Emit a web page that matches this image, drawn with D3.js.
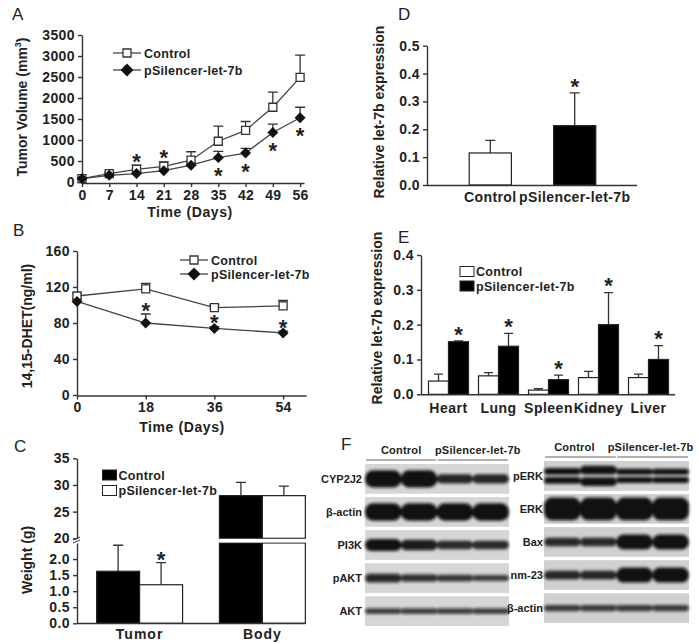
<!DOCTYPE html>
<html>
<head>
<meta charset="utf-8">
<script src="https://cdn.jsdelivr.net/npm/d3@7"></script>
<style>
  body { margin: 0; background: #fff; }
  svg text { font-family: "Liberation Sans", Arial, sans-serif; font-weight: bold; fill: #222; }
</style>
</head>
<body>
<svg id="fig" width="699" height="644"></svg>
<script>
// ---- panel A: tumor volume ----
const daysA = [0, 7, 14, 21, 28, 35, 42, 49, 56];
const volControl = [80, 200, 300, 370, 520, 970, 1230, 1780, 2490];
const volControlErr = [20, 40, 100, 110, 200, 360, 210, 360, 530];
const volSilencer = [80, 160, 200, 270, 400, 580, 690, 1180, 1530];
const volSilencerErr = [10, 30, 40, 50, 60, 150, 110, 200, 250];
const starsAboveA = [14, 21];
const starsBelowA = [35, 42, 49, 56];

// ---- panel B: 14,15-DHET ----
const daysB = [0, 18, 36, 54];
const dhetControl = [110, 118, 97, 99];
const dhetControlErr = [3, 6, 3, 6];
const dhetSilencer = [104, 80, 74, 69];
const dhetSilencerErr = [3, 10, 2, 2];
const starsB = [18, 36, 54];

// ---- panel C: weight ----
const weightGroups = ["Tumor", "Body"];
const weightControl = [1.62, 28.0];
const weightControlErr = [0.81, 2.5];
const weightSilencer = [1.2, 28.0];
const weightSilencerErr = [0.69, 1.8];
const weightTicksLow = [0, 0.5, 1.0, 1.5, 2.0];
const weightTicksHigh = [20, 25, 30, 35];

// ---- panel D: let-7b in tumor ----
const groupsD = ["Control", "pSilencer-let-7b"];
const exprD = [0.115, 0.213];
const exprDErr = [0.045, 0.118];

// ---- panel E: let-7b in organs ----
const organs = ["Heart", "Lung", "Spleen", "Kidney", "Liver"];
const organControl = [0.038, 0.053, 0.012, 0.048, 0.048];
const organControlErr = [0.020, 0.009, 0.004, 0.018, 0.010];
const organSilencer = [0.151, 0.138, 0.042, 0.200, 0.100];
const organSilencerErr = [0.002, 0.037, 0.013, 0.092, 0.040];

// ---- panel F: western blots (relative band signal per lane) ----
const lanes = ["C1", "C2", "S1", "S2"];
const blotLeftProteins = ["CYP2J2", "β-actin", "PI3K", "pAKT", "AKT"];
const blotLeftSignal = [
  [0.64, 0.64, 0.28, 0.28],
  [0.66, 0.66, 0.66, 0.66],
  [0.40, 0.33, 0.24, 0.24],
  [0.26, 0.20, 0.17, 0.14],
  [0.13, 0.13, 0.13, 0.13]
];
const blotRightProteins = ["pERK", "ERK", "Bax", "nm-23", "β-actin"];
const blotRightSignal = [
  [0.55, 0.75, 0.48, 0.48],
  [0.90, 0.90, 0.90, 0.90],
  [0.25, 0.25, 0.55, 0.55],
  [0.26, 0.26, 0.55, 0.55],
  [0.15, 0.14, 0.14, 0.14]
];
const doubletProteins = ["pERK"];

const FONT = '"Liberation Sans", Arial, sans-serif';
const svg = d3.select("#fig");

function styleAxis(g, size) {
  g.attr("font-family", FONT).attr("font-size", size || 14).attr("font-weight", "bold");
  g.selectAll("path, line").attr("stroke", "#333").attr("stroke-width", 1.4);
  g.selectAll("text").attr("fill", "#222").attr("letter-spacing", 0.4);
}

function star(x, cy) {
  svg.append("text").attr("x", x).attr("y", cy + 12.5)
    .attr("text-anchor", "middle").attr("font-size", 22).text("*");
}

function panelLetter(t, x, y) {
  svg.append("text").attr("x", x).attr("y", y).attr("font-size", 17)
    .style("font-weight", "normal").attr("fill", "#000").text(t);
}

function errBars(g, xs, ys, errs, xScale, yScale, cap) {
  g.selectAll(null).data(xs).enter().append("path")
    .attr("d", (d, i) => {
      const x = xScale(d), y0 = yScale(ys[i]), y1 = yScale(ys[i] + errs[i]);
      return `M${x},${y0}V${y1}M${x - cap},${y1}H${x + cap}`;
    })
    .attr("stroke", "#333").attr("stroke-width", 1.3).attr("fill", "none");
}

function vLabel(t, x, y, size) {
  return svg.append("text").attr("transform", `translate(${x},${y}) rotate(-90)`)
    .attr("text-anchor", "middle").attr("font-size", size || 14).text(t);
}

const sq = d3.symbol().type(d3.symbolSquare).size(64);
const dia = d3.symbol().type(d3.symbolSquare).size(60);     // drawn rotated 45 degrees
const diaBig = d3.symbol().type(d3.symbolSquare).size(84);

function lineChart(opts) {
  const { x, y, days, c, cErr, s, sErr } = opts;
  const g = svg.append("g");
  errBars(g, days, c, cErr, x, y, 5);
  errBars(g, days, s, sErr, x, y, 5);
  const line = d3.line().x(d => x(d[0])).y(d => y(d[1]));
  g.append("path").attr("d", line(d3.zip(days, c))).attr("fill", "none").attr("stroke", "#444").attr("stroke-width", 1.3);
  g.append("path").attr("d", line(d3.zip(days, s))).attr("fill", "none").attr("stroke", "#444").attr("stroke-width", 1.3);
  g.selectAll(".sq").data(days).enter().append("path")
    .attr("transform", (d, i) => `translate(${x(d)},${y(c[i])})`)
    .attr("d", sq).attr("fill", "#fff").attr("stroke", "#333").attr("stroke-width", 1.3);
  g.selectAll(".dia").data(days).enter().append("path")
    .attr("transform", (d, i) => `translate(${x(d)},${y(s[i])}) rotate(45)`)
    .attr("d", dia).attr("fill", "#111");
}

function lineLegend(x0, x1, ys) {
  const g = svg.append("g");
  const names = ["Control", "pSilencer-let-7b"];
  names.forEach((n, i) => {
    g.append("line").attr("x1", x0).attr("x2", x1).attr("y1", ys[i]).attr("y2", ys[i])
      .attr("stroke", "#444").attr("stroke-width", 1.3);
    g.append("path").attr("transform", `translate(${(x0 + x1) / 2},${ys[i]})` + (i === 0 ? "" : " rotate(45)"))
      .attr("d", i === 0 ? sq : diaBig)
      .attr("fill", i === 0 ? "#fff" : "#111").attr("stroke", i === 0 ? "#333" : "none").attr("stroke-width", 1.3);
    g.append("text").attr("x", x1 + 3).attr("y", ys[i] + 4.5).attr("font-size", 12.5)
      .attr("letter-spacing", 0.3).text(n);
  });
}

function boxLegend(x, ys, fills, names) {
  names.forEach((n, i) => {
    svg.append("rect").attr("x", x).attr("y", ys[i] - 5).attr("width", 14).attr("height", 10)
      .attr("fill", fills[i]).attr("stroke", "#222").attr("stroke-width", 1);
    svg.append("text").attr("x", x + 16).attr("y", ys[i] + 4.5).attr("font-size", 12.5)
      .attr("letter-spacing", 0.3).text(n);
  });
}

// ================= Panel A =================
{
  const x = d3.scaleLinear([0, 57], [82, 304]);
  const y = d3.scaleLinear([0, 3500], [182, 35]);
  styleAxis(svg.append("g").attr("transform", "translate(0,183)")
    .call(d3.axisBottom(x).tickValues(daysA).tickSize(4).tickSizeOuter(0)));
  styleAxis(svg.append("g").attr("transform", "translate(82,0)")
    .call(d3.axisLeft(y).ticks(7).tickFormat(d3.format("d")).tickSize(4).tickSizeOuter(0)));
  lineChart({ x, y, days: daysA, c: volControl, cErr: volControlErr, s: volSilencer, sErr: volSilencerErr });
  starsAboveA.forEach(d => { const i = daysA.indexOf(d); star(x(d), y(volControl[i] + volControlErr[i]) - 9); });
  starsBelowA.forEach(d => { const i = daysA.indexOf(d); star(x(d), y(volSilencer[i]) + 13); });
  lineLegend(113, 141, [53, 70]);
  const t = vLabel("", 27, 107, 14);
  t.append("tspan").text("Tumor Volume (mm");
  t.append("tspan").attr("font-size", 9).attr("dy", -6).text("3");
  t.append("tspan").attr("dy", 6).text(")");
  svg.append("text").attr("x", 190).attr("y", 217).attr("text-anchor", "middle")
    .attr("font-size", 14).attr("letter-spacing", 0.6).text("Time (Days)");
  panelLetter("A", 12, 20);
}

// ================= Panel B =================
{
  const x = d3.scaleLinear([0, 60], [77, 306]);
  const y = d3.scaleLinear([0, 160], [395, 251]);
  styleAxis(svg.append("g").attr("transform", "translate(0,395.5)")
    .call(d3.axisBottom(x).tickValues(daysB).tickSize(4).tickSizeOuter(0)));
  styleAxis(svg.append("g").attr("transform", "translate(77,0)")
    .call(d3.axisLeft(y).tickValues([0, 40, 80, 120, 160]).tickSize(4).tickSizeOuter(0)));
  lineChart({ x, y, days: daysB, c: dhetControl, cErr: dhetControlErr, s: dhetSilencer, sErr: dhetSilencerErr });
  starsB.forEach(d => { const i = daysB.indexOf(d); star(x(d), y(dhetSilencer[i] + dhetSilencerErr[i]) - 9); });
  lineLegend(180, 208, [260, 274]);
  vLabel("14,15-DHET(ng/ml)", 32, 326, 14);
  svg.append("text").attr("x", 182).attr("y", 432).attr("text-anchor", "middle")
    .attr("font-size", 14).attr("letter-spacing", 0.6).text("Time (Days)");
  panelLetter("B", 13, 236);
}

// ================= Panel C =================
{
  const x = d3.scaleBand(weightGroups, [77, 325]).paddingInner(0.3).paddingOuter(0.16);
  const xs = d3.scaleBand(["Control", "pSilencer"], [0, x.bandwidth()]);
  const yLow = d3.scaleLinear([0, 2.5], [623.3, 543]);
  const yHigh = d3.scaleLinear([20, 35], [538.3, 458.3]);
  // y axis with break
  styleAxis(svg.append("g").attr("transform", "translate(77,0)")
    .call(d3.axisLeft(yLow).tickValues(weightTicksLow).tickFormat(d3.format(".1f")).tickSize(4).tickSizeOuter(0)));
  styleAxis(svg.append("g").attr("transform", "translate(77,0)")
    .call(d3.axisLeft(yHigh).tickValues(weightTicksHigh).tickSize(4).tickSizeOuter(0)));
  svg.append("path").attr("d", "M73,540L80,537M73,543L80,540").attr("stroke", "#333").attr("stroke-width", 1);

  const g = svg.append("g");
  const series = [
    { key: "Control", v: weightControl, e: weightControlErr, fill: "#000" },
    { key: "pSilencer", v: weightSilencer, e: weightSilencerErr, fill: "#fff" }
  ];
  series.forEach(s => {
    weightGroups.forEach((grp, i) => {
      const x0 = x(grp) + xs(s.key), w = xs.bandwidth(), cx = x0 + w / 2;
      const val = s.v[i], top = val + s.e[i];
      if (val <= 2.5) {
        g.append("path").attr("d", `M${cx},${yLow(val)}V${yLow(top)}M${cx - 5},${yLow(top)}H${cx + 5}`)
          .attr("stroke", "#333").attr("stroke-width", 1.3);
        g.append("rect").attr("x", x0).attr("y", yLow(val)).attr("width", w)
          .attr("height", yLow(0) - yLow(val)).attr("fill", s.fill).attr("stroke", "#222").attr("stroke-width", 1.2);
      } else {
        g.append("path").attr("d", `M${cx},${yHigh(val)}V${yHigh(top)}M${cx - 5},${yHigh(top)}H${cx + 5}`)
          .attr("stroke", "#333").attr("stroke-width", 1.3);
        g.append("rect").attr("x", x0).attr("y", yHigh(val)).attr("width", w)
          .attr("height", yHigh(20) - yHigh(val)).attr("fill", s.fill).attr("stroke", "#222").attr("stroke-width", 1.2);
        g.append("rect").attr("x", x0).attr("y", yLow(2.5)).attr("width", w)
          .attr("height", yLow(0) - yLow(2.5)).attr("fill", s.fill).attr("stroke", "#222").attr("stroke-width", 1.2);
        // white gap of the axis break
        g.append("rect").attr("x", x0 - 1).attr("y", yHigh(20) + 0.6).attr("width", w + 2)
          .attr("height", yLow(2.5) - yHigh(20) - 1.2).attr("fill", "#fff");
      }
    });
  });
  const xEnd = x("Body") + x.bandwidth();
  svg.append("line").attr("x1", 77).attr("x2", xEnd).attr("y1", 623.5).attr("y2", 623.5)
    .attr("stroke", "#333").attr("stroke-width", 1.4);
  weightGroups.forEach(grp => {
    svg.append("text").attr("x", x(grp) + x.bandwidth() / 2).attr("y", 639).attr("text-anchor", "middle")
      .attr("font-size", 14).attr("letter-spacing", 1).text(grp);
  });
  star(x("Tumor") + xs("pSilencer") + xs.bandwidth() / 2, yLow(weightSilencer[0] + weightSilencerErr[0]) - 8);
  boxLegend(102.5, [475, 490.5], ["#000", "#fff"], ["Control", "pSilencer-let-7b"]);
  vLabel("Weight (g)", 32, 560, 14);
  panelLetter("C", 14, 452);
}

// ================= Panel D =================
{
  const x = d3.scaleBand(groupsD, [427, 638]).paddingInner(0.5).paddingOuter(0.5);
  const y = d3.scaleLinear([0, 0.5], [185, 45.7]);
  styleAxis(svg.append("g").attr("transform", "translate(427,0)")
    .call(d3.axisLeft(y).ticks(5).tickFormat(d3.format(".1f")).tickSize(4).tickSizeOuter(0)));
  const g = svg.append("g");
  errBars(g, groupsD.map(d => x(d) + x.bandwidth() / 2), exprD, exprDErr, d => d, y, 5);
  g.selectAll("rect").data(groupsD).enter().append("rect")
    .attr("x", d => x(d)).attr("y", (d, i) => y(exprD[i])).attr("width", x.bandwidth())
    .attr("height", (d, i) => y(0) - y(exprD[i]))
    .attr("fill", (d, i) => i === 0 ? "#fff" : "#000").attr("stroke", "#222").attr("stroke-width", 1.2);
  svg.append("line").attr("x1", 427).attr("x2", 637).attr("y1", 185.5).attr("y2", 185.5)
    .attr("stroke", "#333").attr("stroke-width", 1.4);
  groupsD.forEach(d => {
    svg.append("text").attr("x", x(d) + x.bandwidth() / 2).attr("y", 201.5).attr("text-anchor", "middle")
      .attr("font-size", 14).attr("letter-spacing", 0.4).text(d);
  });
  star(x(groupsD[1]) + x.bandwidth() / 2, y(exprD[1] + exprDErr[1]) - 11);
  vLabel("Relative let-7b expression", 384, 112, 14);
  panelLetter("D", 398, 20);
}

// ================= Panel E =================
{
  const x = d3.scaleBand(organs, [421, 676]).paddingInner(0.2).paddingOuter(0.15);
  const xs = d3.scaleBand(["Control", "pSilencer"], [0, x.bandwidth()]);
  const y = d3.scaleLinear([0, 0.4], [394.3, 255]);
  styleAxis(svg.append("g").attr("transform", "translate(421,0)")
    .call(d3.axisLeft(y).ticks(4).tickFormat(d3.format(".1f")).tickSize(4).tickSizeOuter(0)));
  const g = svg.append("g");
  const series = [
    { key: "Control", v: organControl, e: organControlErr, fill: "#fff" },
    { key: "pSilencer", v: organSilencer, e: organSilencerErr, fill: "#000" }
  ];
  series.forEach(s => {
    const cx = organs.map(o => x(o) + xs(s.key) + xs.bandwidth() / 2);
    errBars(g, cx, s.v, s.e, d => d, y, 4.5);
    g.selectAll(null).data(organs).enter().append("rect")
      .attr("x", o => x(o) + xs(s.key)).attr("y", (o, i) => y(s.v[i]))
      .attr("width", xs.bandwidth()).attr("height", (o, i) => y(0) - y(s.v[i]))
      .attr("fill", s.fill).attr("stroke", "#222").attr("stroke-width", 1.2);
  });
  svg.append("line").attr("x1", 421).attr("x2", 675).attr("y1", 394.8).attr("y2", 394.8)
    .attr("stroke", "#333").attr("stroke-width", 1.4);
  organs.forEach((o, i) => {
    svg.append("text").attr("x", x(o) + x.bandwidth() / 2).attr("y", 413).attr("text-anchor", "middle")
      .attr("font-size", 14).attr("letter-spacing", 0.5).text(o);
    star(x(o) + xs("pSilencer") + xs.bandwidth() / 2, y(organSilencer[i] + organSilencerErr[i]) - 12);
  });
  boxLegend(460, [271.5, 286], ["#fff", "#000"], ["Control", "pSilencer-let-7b"]);
  vLabel("Relative let-7b expression", 382, 318, 14);
  panelLetter("E", 398, 243);
}

// ================= Panel F =================
{
  const defs = svg.append("defs");
  defs.append("filter").attr("id", "blur").attr("x", "-20%").attr("y", "-60%").attr("width", "140%").attr("height", "220%")
    .append("feGaussianBlur").attr("stdDeviation", 1.7);
  const thick = d3.scaleLinear([0, 1], [3, 25]);
  const dark = d3.scaleLinear([0.1, 0.4], [0.75, 0.98]).clamp(true);

  function blot(proteins, signal, xRange, yRange, labelX, bg, headShift) {
    const rows = d3.scaleBand(proteins, yRange).paddingInner(0.1);
    const lane = d3.scaleBand(lanes, xRange).paddingInner(0.04).paddingOuter(0.03);
    const g = svg.append("g");
    proteins.forEach((p, r) => {
      const y0 = rows(p), h = rows.bandwidth(), cy = y0 + h / 2;
      g.append("rect").attr("x", xRange[0]).attr("y", y0).attr("width", xRange[1] - xRange[0])
        .attr("height", h).attr("fill", bg);
      const bands = g.append("g").attr("filter", "url(#blur)");
      lanes.forEach((l, i) => {
        const s = signal[r][i], bh = thick(s);
        const dbl = doubletProteins.includes(p);
        const parts = dbl ? [-bh * 0.3, bh * 0.3] : [0];
        parts.forEach(off => {
          const ph = dbl ? bh * 0.45 : bh;
          bands.append("rect").attr("x", lane(l) - 1).attr("y", cy + off - ph / 2)
            .attr("width", lane.bandwidth() + 2).attr("height", ph).attr("rx", Math.min(ph / 2, 8))
            .attr("fill", "#111").attr("opacity", dark(s));
        });
      });
      svg.append("text").attr("x", labelX).attr("y", cy + 4).attr("text-anchor", "end")
        .attr("font-size", 11).attr("fill", "#222").text(p);
    });
    // header groups
    [["Control", ["C1", "C2"], headShift[0]], ["pSilencer-let-7b", ["S1", "S2"], headShift[1]]].forEach(([name, ls, dx]) => {
      const a = lane(ls[0]), b = lane(ls[1]) + lane.bandwidth();
      svg.append("line").attr("x1", a).attr("x2", b).attr("y1", yRange[0] - 4).attr("y2", yRange[0] - 4)
        .attr("stroke", "#999").attr("stroke-width", 1.5);
      svg.append("text").attr("x", (a + b) / 2 + dx).attr("y", yRange[0] - 10)
        .attr("text-anchor", "middle").attr("font-size", 11).attr("fill", "#333").attr("letter-spacing", 0.2).text(name);
    });
  }
  blot(blotLeftProteins, blotLeftSignal, [365, 509], [464, 626], 362, "#d6d6d6", [0, 5]);
  blot(blotRightProteins, blotRightSignal, [544, 689], [461, 623], 543, "#d0d0d0", [-6, -2]);
  panelLetter("F", 341, 450);
}
</script>
</body>
</html>
